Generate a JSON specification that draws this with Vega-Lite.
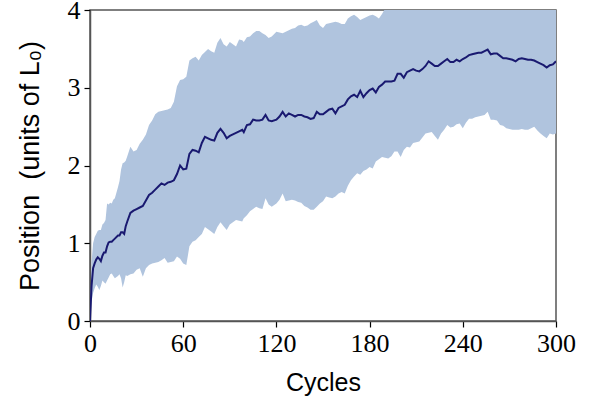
{
  "$schema": "https://vega.github.io/schema/vega-lite/v6.json",
  "width": 466,
  "height": 311,
  "autosize": {"type": "none"},
  "padding": {"left": 90, "top": 10, "right": 33, "bottom": 82},
  "background": "white",
  "config": {
    "view": {"stroke": "#555555", "strokeWidth": 1.5},
    "axis": {
      "grid": false,
      "domainColor": "#555555",
      "domainWidth": 1.5,
      "tickColor": "#000000",
      "tickSize": 6,
      "tickWidth": 1.2,
      "labelFont": "Liberation Serif",
      "labelFontSize": 26,
      "labelColor": "#000000",
      "titleFont": "Liberation Sans",
      "titleFontSize": 25,
      "titleFontWeight": "normal",
      "titleColor": "#000000"
    }
  },
  "data": {
    "values": [
      {"c":0,"m":0,"lo":0,"hi":0},
      {"c":1,"m":0.45,"lo":0.25,"hi":0.75},
      {"c":2,"m":0.68,"lo":0.36,"hi":1.0},
      {"c":3,"m":0.74,"lo":0.42,"hi":1.08},
      {"c":4,"m":0.79,"lo":0.47,"hi":1.12},
      {"c":5,"m":0.82,"lo":0.44,"hi":1.16},
      {"c":6,"m":0.8,"lo":0.4,"hi":1.17},
      {"c":7,"m":0.77,"lo":0.45,"hi":1.17},
      {"c":8,"m":0.84,"lo":0.52,"hi":1.24},
      {"c":9,"m":0.88,"lo":0.5,"hi":1.26},
      {"c":10,"m":0.88,"lo":0.48,"hi":1.3},
      {"c":11,"m":0.96,"lo":0.52,"hi":1.51},
      {"c":12,"m":1.01,"lo":0.56,"hi":1.5},
      {"c":13,"m":1.02,"lo":0.6,"hi":1.52},
      {"c":14,"m":1.02,"lo":0.61,"hi":1.51},
      {"c":15,"m":1.04,"lo":0.58,"hi":1.56},
      {"c":16,"m":1.06,"lo":0.55,"hi":1.58},
      {"c":18,"m":1.1,"lo":0.58,"hi":1.72},
      {"c":19,"m":1.1,"lo":0.6,"hi":1.8},
      {"c":20,"m":1.14,"lo":0.55,"hi":1.95},
      {"c":21,"m":1.14,"lo":0.43,"hi":2.03},
      {"c":22,"m":1.12,"lo":0.5,"hi":2.04},
      {"c":23,"m":1.22,"lo":0.59,"hi":2.06},
      {"c":24,"m":1.28,"lo":0.58,"hi":2.12},
      {"c":26,"m":1.39,"lo":0.6,"hi":2.24},
      {"c":28,"m":1.42,"lo":0.61,"hi":2.18},
      {"c":30,"m":1.44,"lo":0.66,"hi":2.2},
      {"c":32,"m":1.46,"lo":0.68,"hi":2.28},
      {"c":34,"m":1.48,"lo":0.57,"hi":2.33},
      {"c":36,"m":1.55,"lo":0.68,"hi":2.4},
      {"c":38,"m":1.62,"lo":0.72,"hi":2.52},
      {"c":40,"m":1.65,"lo":0.74,"hi":2.58},
      {"c":42,"m":1.69,"lo":0.75,"hi":2.66},
      {"c":44,"m":1.73,"lo":0.76,"hi":2.69},
      {"c":46,"m":1.77,"lo":0.78,"hi":2.7},
      {"c":48,"m":1.75,"lo":0.81,"hi":2.71},
      {"c":50,"m":1.78,"lo":0.75,"hi":2.72},
      {"c":52,"m":1.79,"lo":0.76,"hi":2.74},
      {"c":54,"m":1.81,"lo":0.77,"hi":2.82},
      {"c":56,"m":1.89,"lo":0.83,"hi":3.02},
      {"c":58,"m":2.0,"lo":0.8,"hi":3.1},
      {"c":60,"m":1.95,"lo":0.74,"hi":3.11},
      {"c":62,"m":1.96,"lo":0.72,"hi":3.14},
      {"c":64,"m":2.15,"lo":0.96,"hi":3.35},
      {"c":66,"m":2.2,"lo":1.02,"hi":3.38},
      {"c":68,"m":2.19,"lo":1.04,"hi":3.4},
      {"c":70,"m":2.17,"lo":1.08,"hi":3.35},
      {"c":72,"m":2.29,"lo":1.12,"hi":3.42},
      {"c":74,"m":2.37,"lo":1.21,"hi":3.46},
      {"c":76,"m":2.35,"lo":1.18,"hi":3.5},
      {"c":78,"m":2.33,"lo":1.15,"hi":3.47},
      {"c":80,"m":2.32,"lo":1.12,"hi":3.45},
      {"c":82,"m":2.42,"lo":1.21,"hi":3.58},
      {"c":84,"m":2.47,"lo":1.27,"hi":3.64},
      {"c":86,"m":2.42,"lo":1.22,"hi":3.56},
      {"c":88,"m":2.35,"lo":1.17,"hi":3.53},
      {"c":90,"m":2.38,"lo":1.24,"hi":3.59},
      {"c":92,"m":2.4,"lo":1.27,"hi":3.56},
      {"c":94,"m":2.42,"lo":1.3,"hi":3.53},
      {"c":96,"m":2.44,"lo":1.29,"hi":3.62},
      {"c":98,"m":2.46,"lo":1.28,"hi":3.61},
      {"c":99,"m":2.43,"lo":1.32,"hi":3.59},
      {"c":101,"m":2.52,"lo":1.36,"hi":3.65},
      {"c":103,"m":2.53,"lo":1.41,"hi":3.66},
      {"c":105,"m":2.59,"lo":1.44,"hi":3.7},
      {"c":107,"m":2.58,"lo":1.47,"hi":3.73},
      {"c":109,"m":2.58,"lo":1.45,"hi":3.73},
      {"c":111,"m":2.59,"lo":1.44,"hi":3.7},
      {"c":113,"m":2.65,"lo":1.58,"hi":3.68},
      {"c":115,"m":2.58,"lo":1.5,"hi":3.64},
      {"c":117,"m":2.57,"lo":1.47,"hi":3.66},
      {"c":120,"m":2.59,"lo":1.51,"hi":3.72},
      {"c":122,"m":2.63,"lo":1.56,"hi":3.71},
      {"c":124,"m":2.69,"lo":1.64,"hi":3.7},
      {"c":126,"m":2.63,"lo":1.54,"hi":3.72},
      {"c":128,"m":2.67,"lo":1.55,"hi":3.74},
      {"c":130,"m":2.65,"lo":1.56,"hi":3.76},
      {"c":132,"m":2.63,"lo":1.55,"hi":3.77},
      {"c":134,"m":2.65,"lo":1.53,"hi":3.8},
      {"c":136,"m":2.65,"lo":1.52,"hi":3.81},
      {"c":138,"m":2.63,"lo":1.48,"hi":3.79},
      {"c":140,"m":2.62,"lo":1.46,"hi":3.8},
      {"c":142,"m":2.6,"lo":1.43,"hi":3.83},
      {"c":144,"m":2.61,"lo":1.43,"hi":3.85},
      {"c":146,"m":2.69,"lo":1.47,"hi":3.87},
      {"c":148,"m":2.66,"lo":1.51,"hi":3.8},
      {"c":150,"m":2.66,"lo":1.54,"hi":3.77},
      {"c":152,"m":2.69,"lo":1.6,"hi":3.82},
      {"c":154,"m":2.72,"lo":1.59,"hi":3.83},
      {"c":156,"m":2.73,"lo":1.58,"hi":3.84},
      {"c":158,"m":2.67,"lo":1.6,"hi":3.85},
      {"c":160,"m":2.74,"lo":1.64,"hi":3.84},
      {"c":162,"m":2.76,"lo":1.66,"hi":3.82},
      {"c":164,"m":2.78,"lo":1.64,"hi":3.82},
      {"c":166,"m":2.85,"lo":1.74,"hi":3.89},
      {"c":168,"m":2.89,"lo":1.81,"hi":3.92},
      {"c":170,"m":2.91,"lo":1.86,"hi":3.94},
      {"c":172,"m":2.88,"lo":1.9,"hi":3.91},
      {"c":174,"m":2.96,"lo":1.88,"hi":3.87},
      {"c":176,"m":2.88,"lo":1.93,"hi":3.89},
      {"c":178,"m":2.93,"lo":1.95,"hi":3.91},
      {"c":180,"m":2.97,"lo":1.98,"hi":3.93},
      {"c":182,"m":2.99,"lo":1.96,"hi":3.94},
      {"c":184,"m":2.94,"lo":2.05,"hi":3.92},
      {"c":186,"m":3.01,"lo":2.08,"hi":3.89},
      {"c":188,"m":3.04,"lo":2.11,"hi":3.95},
      {"c":190,"m":3.08,"lo":2.1,"hi":4.02},
      {"c":192,"m":3.08,"lo":2.09,"hi":4.1},
      {"c":194,"m":3.08,"lo":2.12,"hi":4.15},
      {"c":196,"m":3.09,"lo":2.18,"hi":4.2},
      {"c":198,"m":3.18,"lo":2.18,"hi":4.2},
      {"c":200,"m":3.18,"lo":2.11,"hi":4.25},
      {"c":202,"m":3.13,"lo":2.2,"hi":4.25},
      {"c":204,"m":3.2,"lo":2.24,"hi":4.3},
      {"c":206,"m":3.22,"lo":2.23,"hi":4.3},
      {"c":208,"m":3.24,"lo":2.29,"hi":4.3},
      {"c":210,"m":3.22,"lo":2.3,"hi":4.35},
      {"c":212,"m":3.21,"lo":2.31,"hi":4.35},
      {"c":214,"m":3.24,"lo":2.36,"hi":4.38},
      {"c":216,"m":3.28,"lo":2.41,"hi":4.4},
      {"c":218,"m":3.34,"lo":2.42,"hi":4.42},
      {"c":220,"m":3.31,"lo":2.43,"hi":4.4},
      {"c":222,"m":3.28,"lo":2.38,"hi":4.4},
      {"c":224,"m":3.28,"lo":2.33,"hi":4.4},
      {"c":226,"m":3.31,"lo":2.41,"hi":4.42},
      {"c":228,"m":3.34,"lo":2.46,"hi":4.42},
      {"c":230,"m":3.37,"lo":2.52,"hi":4.45},
      {"c":232,"m":3.33,"lo":2.49,"hi":4.45},
      {"c":234,"m":3.33,"lo":2.5,"hi":4.45},
      {"c":236,"m":3.36,"lo":2.53,"hi":4.45},
      {"c":238,"m":3.34,"lo":2.54,"hi":4.45},
      {"c":240,"m":3.37,"lo":2.48,"hi":4.45},
      {"c":242,"m":3.39,"lo":2.55,"hi":4.45},
      {"c":244,"m":3.42,"lo":2.6,"hi":4.45},
      {"c":246,"m":3.43,"lo":2.6,"hi":4.45},
      {"c":248,"m":3.44,"lo":2.62,"hi":4.45},
      {"c":250,"m":3.45,"lo":2.63,"hi":4.45},
      {"c":252,"m":3.45,"lo":2.64,"hi":4.45},
      {"c":254,"m":3.47,"lo":2.65,"hi":4.45},
      {"c":256,"m":3.49,"lo":2.69,"hi":4.45},
      {"c":258,"m":3.43,"lo":2.59,"hi":4.45},
      {"c":260,"m":3.44,"lo":2.59,"hi":4.45},
      {"c":262,"m":3.44,"lo":2.58,"hi":4.45},
      {"c":264,"m":3.41,"lo":2.52,"hi":4.45},
      {"c":266,"m":3.38,"lo":2.51,"hi":4.45},
      {"c":268,"m":3.38,"lo":2.48,"hi":4.45},
      {"c":270,"m":3.37,"lo":2.47,"hi":4.45},
      {"c":272,"m":3.36,"lo":2.46,"hi":4.45},
      {"c":274,"m":3.34,"lo":2.46,"hi":4.45},
      {"c":276,"m":3.37,"lo":2.46,"hi":4.45},
      {"c":278,"m":3.38,"lo":2.47,"hi":4.45},
      {"c":280,"m":3.37,"lo":2.46,"hi":4.45},
      {"c":282,"m":3.36,"lo":2.46,"hi":4.45},
      {"c":284,"m":3.36,"lo":2.48,"hi":4.45},
      {"c":286,"m":3.35,"lo":2.5,"hi":4.45},
      {"c":288,"m":3.33,"lo":2.45,"hi":4.45},
      {"c":290,"m":3.31,"lo":2.41,"hi":4.45},
      {"c":292,"m":3.29,"lo":2.38,"hi":4.45},
      {"c":294,"m":3.26,"lo":2.35,"hi":4.45},
      {"c":296,"m":3.29,"lo":2.41,"hi":4.45},
      {"c":298,"m":3.3,"lo":2.4,"hi":4.45},
      {"c":300,"m":3.34,"lo":2.41,"hi":4.45}
    ]
  },
  "encoding": {
    "x": {
      "field": "c",
      "type": "quantitative",
      "scale": {"domain": [0, 300], "nice": false, "zero": false},
      "axis": {"values": [0, 60, 120, 180, 240, 300], "format": "d", "title": "Cycles", "labelPadding": 3, "titlePadding": 14, "labelFlush": false}
    }
  },
  "layer": [
    {
      "mark": {"type": "area", "color": "#b0c4de", "opacity": 1, "clip": true},
      "encoding": {
        "y": {
          "field": "hi",
          "type": "quantitative",
          "scale": {"domain": [0, 4], "nice": false},
          "axis": {"values": [0, 1, 2, 3, 4], "format": "d", "title": "Position\u00a0\u00a0(units of L₀)", "titleFontSize": 27, "labelPadding": 4, "titlePadding": 23, "labelFlush": false}
        },
        "y2": {"field": "lo"}
      }
    },
    {
      "mark": {"type": "line", "color": "#191970", "strokeWidth": 2, "clip": true},
      "encoding": {
        "y": {"field": "m", "type": "quantitative"}
      }
    }
  ]
}
